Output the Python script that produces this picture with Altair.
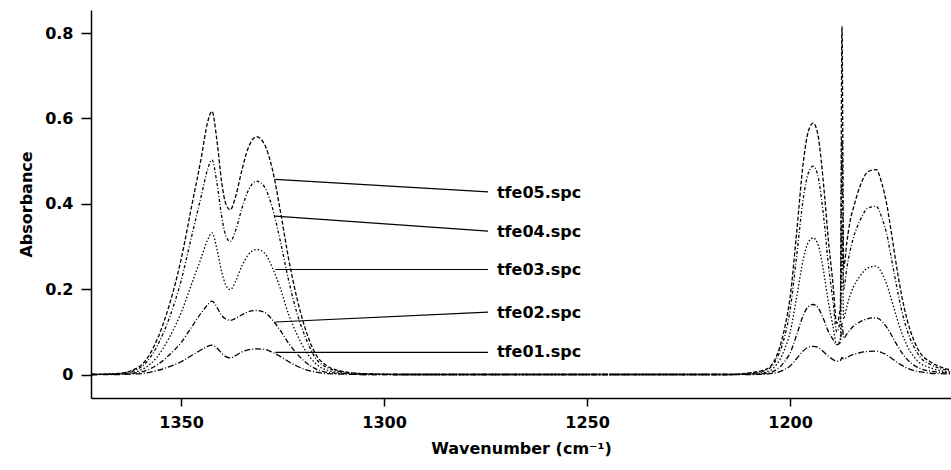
import altair as alt
import pandas as pd

wavenumber = [
    1372, 1366, 1362, 1359, 1356, 1353, 1350, 1347.5, 1345, 1343.5, 1342.4, 1341.2, 1340, 1339, 1337.9,
    1336.5, 1335, 1333.5, 1331.4, 1329.5, 1327.5, 1325.5, 1323.5, 1321.5, 1319.5, 1317, 1314, 1310, 1305, 1295,
    1280, 1260, 1240, 1220,
    1215, 1210, 1206, 1204, 1202.5, 1201.3, 1200, 1198.4, 1196.7, 1195.5, 1194.3, 1193.2, 1192.3, 1191.5,
    1190.7, 1189.4, 1188.5, 1187.6, 1187.2, 1186.8, 1186, 1185.2, 1184.4, 1182.8, 1180.8, 1178.8, 1177.3,
    1176.2, 1175, 1173.7, 1172.5, 1171.2, 1169.5, 1167.9, 1165.5, 1163, 1160,
]

tfe05 = [
    0, 0.002, 0.01, 0.03, 0.08, 0.16, 0.27, 0.39, 0.51, 0.59, 0.617, 0.55, 0.45, 0.40, 0.386,
    0.42, 0.48, 0.53, 0.557, 0.54, 0.48, 0.38, 0.27, 0.18, 0.11, 0.05, 0.02, 0.007, 0.002, 0,
    0, 0, 0, 0,
    0, 0.004, 0.012, 0.03, 0.065, 0.11, 0.18, 0.33, 0.50, 0.57, 0.589, 0.565, 0.50, 0.42,
    0.33, 0.21, 0.12, 0.16, 0.816, 0.25, 0.31, 0.36, 0.39, 0.44, 0.475, 0.48, 0.445,
    0.40, 0.33, 0.25, 0.185, 0.13, 0.08, 0.05, 0.03, 0.018, 0.01,
]
tfe04 = [
    0, 0.002, 0.008, 0.024, 0.065, 0.13, 0.22, 0.32, 0.42, 0.48, 0.503, 0.45, 0.37, 0.325, 0.312,
    0.34, 0.39, 0.43, 0.453, 0.44, 0.39, 0.31, 0.22, 0.145, 0.09, 0.04, 0.016, 0.006, 0.002, 0,
    0, 0, 0, 0,
    0, 0.003, 0.01, 0.025, 0.054, 0.09, 0.15, 0.275, 0.415, 0.472, 0.488, 0.468, 0.415, 0.35,
    0.27, 0.17, 0.10, 0.13, 0.55, 0.20, 0.25, 0.29, 0.32, 0.36, 0.39, 0.394, 0.365,
    0.33, 0.27, 0.205, 0.15, 0.105, 0.065, 0.04, 0.024, 0.014, 0.008,
]
tfe03 = [
    0, 0.001, 0.005, 0.015, 0.04, 0.085, 0.145, 0.21, 0.275, 0.315, 0.332, 0.295, 0.24, 0.21, 0.199,
    0.22, 0.255, 0.28, 0.293, 0.285, 0.25, 0.20, 0.14, 0.095, 0.058, 0.027, 0.01, 0.004, 0.001, 0,
    0, 0, 0, 0,
    0, 0.002, 0.006, 0.016, 0.035, 0.06, 0.098, 0.18, 0.272, 0.31, 0.32, 0.307, 0.272, 0.228,
    0.178, 0.112, 0.07, 0.085, 0.35, 0.13, 0.16, 0.185, 0.205, 0.23, 0.25, 0.254, 0.236,
    0.212, 0.175, 0.133, 0.098, 0.068, 0.042, 0.026, 0.016, 0.009, 0.005,
]
tfe02 = [
    0, 0.001, 0.003, 0.008, 0.022, 0.045, 0.075, 0.11, 0.145, 0.163, 0.172, 0.158, 0.138, 0.13, 0.127,
    0.132, 0.14, 0.147, 0.150, 0.146, 0.128, 0.102, 0.073, 0.049, 0.03, 0.014, 0.005, 0.002, 0, 0,
    0, 0, 0, 0,
    0, 0.001, 0.003, 0.008, 0.018, 0.031, 0.05, 0.092, 0.14, 0.159, 0.164, 0.158, 0.142, 0.124,
    0.104, 0.082, 0.07, 0.075, 0.12, 0.085, 0.095, 0.105, 0.113, 0.123, 0.131, 0.133, 0.124,
    0.111, 0.092, 0.07, 0.052, 0.036, 0.022, 0.014, 0.008, 0.005, 0.003,
]
tfe01 = [
    0, 0, 0.001, 0.003, 0.009, 0.018, 0.03, 0.044, 0.058, 0.066, 0.069, 0.062, 0.05, 0.042, 0.039,
    0.045, 0.053, 0.058, 0.060, 0.059, 0.052, 0.042, 0.03, 0.02, 0.012, 0.006, 0.002, 0.001, 0, 0,
    0, 0, 0, 0,
    0, 0, 0.001, 0.003, 0.007, 0.012, 0.02, 0.037, 0.056, 0.064, 0.066, 0.064, 0.058, 0.051,
    0.044, 0.035, 0.031, 0.033, 0.04, 0.036, 0.04, 0.044, 0.047, 0.051, 0.054, 0.055, 0.051,
    0.046, 0.038, 0.029, 0.022, 0.015, 0.009, 0.006, 0.003, 0.002, 0.001,
]

series_names = ["tfe01.spc", "tfe02.spc", "tfe03.spc", "tfe04.spc", "tfe05.spc"]
series_values = [tfe01, tfe02, tfe03, tfe04, tfe05]

# Annotation labels with leader lines
label_names = ["tfe05.spc", "tfe04.spc", "tfe03.spc", "tfe02.spc", "tfe01.spc"]
leader_start_abs = [0.457, 0.371, 0.246, 0.123, 0.052]
leader_end_abs = [0.428, 0.336, 0.246, 0.146, 0.052]
label_abs = [0.426, 0.333, 0.246, 0.144, 0.052]
leader_start_wn = 1326.8
leader_end_wn = 1274.4
label_wn = 1272.7

rows = []
for name, vals in zip(series_names, series_values):
    for w, a in zip(wavenumber, vals):
        rows.append({"wn": w, "abs": a, "series": name})
spectra = pd.DataFrame(rows)

labels = pd.DataFrame({
    "name": label_names,
    "y0": leader_start_abs,
    "y1": leader_end_abs,
    "ylab": label_abs,
    "x0": [leader_start_wn] * 5,
    "x1": [leader_end_wn] * 5,
    "xlab": [label_wn] * 5,
})

xscale = alt.Scale(domain=[1160.35, 1372.2], reverse=True, nice=False, zero=False)
yscale = alt.Scale(domain=[-0.055, 0.854], nice=False, zero=False)

dash_scale = alt.Scale(
    domain=series_names,
    range=[[6, 2, 1, 2], [5, 2, 1, 2], [1.5, 2], [3, 2, 1, 2], [4, 2]],
)

lines = alt.Chart(spectra).mark_line(
    interpolate="monotone", color="black", strokeWidth=1.3, clip=True
).encode(
    x=alt.X("wn:Q", scale=xscale,
            axis=alt.Axis(values=[1350, 1300, 1250, 1200], format="d",
                          title="Wavenumber (cm⁻¹)", tickSize=8, labelPadding=8,
                          titlePadding=10)),
    y=alt.Y("abs:Q", scale=yscale,
            axis=alt.Axis(values=[0, 0.2, 0.4, 0.6, 0.8], format=".1~f",
                          title="Absorbance", tickSize=10, labelPadding=8,
                          titlePadding=10)),
    detail="series:N",
    strokeDash=alt.StrokeDash("series:N", scale=dash_scale, legend=None),
    order=alt.Order("wn:Q", sort="descending"),
)

leaders = alt.Chart(labels).mark_rule(color="black", strokeWidth=1.2).encode(
    x=alt.X("x0:Q", scale=xscale),
    x2="x1:Q",
    y=alt.Y("y0:Q", scale=yscale),
    y2="y1:Q",
)

texts = alt.Chart(labels).mark_text(
    align="left", baseline="middle", font="DejaVu Sans", fontWeight="bold",
    fontSize=16, color="black", dx=2,
).encode(
    x=alt.X("xlab:Q", scale=xscale),
    y=alt.Y("ylab:Q", scale=yscale),
    text="name:N",
)

chart = alt.layer(lines, leaders, texts).properties(
    width=860, height=388,
    autosize=alt.AutoSizeParams(type="none"),
    padding={"left": 91, "top": 10, "right": 0, "bottom": 72},
).configure_view(stroke=None).configure_axis(
    grid=False,
    domainColor="black", domainWidth=1.5,
    tickColor="black", tickWidth=1.5,
    labelFont="DejaVu Sans", labelFontWeight="bold", labelFontSize=16, labelColor="black",
    titleFont="DejaVu Sans", titleFontWeight="bold", titleFontSize=16, titleColor="black",
)

chart.save("out.html", embed_options={"renderer": "svg", "actions": False})
